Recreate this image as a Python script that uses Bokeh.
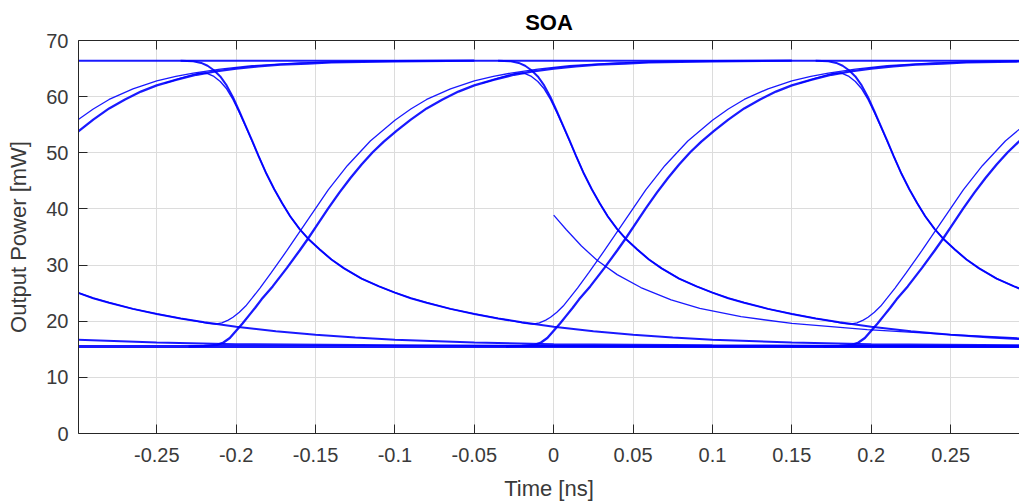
from bokeh.plotting import figure
from bokeh.models import Range1d, FixedTicker, LinearAxis, ColumnDataSource
from bokeh.embed import file_html
from bokeh.resources import INLINE

# ---------------- data ----------------
title_text = "SOA"
x_label = "Time [ns]"
y_label = "Output Power [mW]"

x_ticks = [-0.25, -0.2, -0.15, -0.1, -0.05, 0.0, 0.05, 0.1, 0.15, 0.2, 0.25]
x_tick_labels = ["-0.25", "-0.2", "-0.15", "-0.1", "-0.05", "0", "0.05", "0.1", "0.15", "0.2", "0.25"]
y_ticks = [0, 10, 20, 30, 40, 50, 60, 70]
y_tick_labels = ["0", "10", "20", "30", "40", "50", "60", "70"]

# steady "1" and "0" levels (mW) across the window (ns)
level_t = [-0.30, 0.30]
high_level = [66.4, 66.4]
low_level = [15.5, 15.5]

# bit boundaries (ns) of the eye diagram
rise_bounds = [-0.4, -0.2, 0.0, 0.2]
valley_rise_bounds = [-0.4, -0.2, 0.0, 0.2]
fall_bounds = [-0.6, -0.4, -0.2, 0.0, 0.2]
peak_fall_bounds = [-0.2, 0.0, 0.2]

# rising edge from the "0" level, time relative to its bit boundary
rise_tau = [-0.030, -0.020, -0.012, -0.008, -0.004, 0.000, 0.004, 0.008, 0.012, 0.016,
            0.023, 0.032, 0.040, 0.045, 0.050, 0.058, 0.065, 0.072, 0.079, 0.086,
            0.093, 0.101, 0.110, 0.120, 0.130, 0.140, 0.150, 0.162, 0.175, 0.187,
            0.200, 0.214, 0.228, 0.245, 0.260, 0.280, 0.300, 0.350]
rise_p = [15.5, 15.6, 15.8, 16.2, 17.0, 18.3, 19.6, 21.0, 22.4, 23.9,
          26.2, 29.5, 32.6, 34.6, 36.7, 40.1, 42.9, 45.5, 47.9, 50.1,
          52.0, 53.9, 55.9, 57.9, 59.5, 60.9, 62.0, 63.0, 63.9, 64.5,
          65.0, 65.4, 65.7, 65.9, 66.1, 66.2, 66.3, 66.4]

# decay into a valley after a single "1", then a rising edge
valley_tau = [-0.100, -0.090, -0.080, -0.065, -0.050, -0.035, -0.025, -0.018, -0.013, -0.009,
              -0.005, -0.002, 0.002, 0.006, 0.010, 0.015, 0.022, 0.032, 0.045, 0.058,
              0.070, 0.0845, 0.100, 0.110, 0.120, 0.135, 0.150, 0.162, 0.173, 0.190,
              0.210, 0.240, 0.280, 0.330]
valley_p = [25.1, 24.1, 23.3, 22.2, 21.3, 20.5, 20.0, 19.6, 19.5, 19.7,
            20.2, 20.7, 21.6, 22.7, 24.1, 25.9, 28.6, 32.6, 38.0, 43.4,
            47.7, 52.1, 55.8, 57.8, 59.5, 61.4, 62.8, 63.6, 64.2, 64.9,
            65.5, 66.0, 66.3, 66.4]

# falling edge from the "1" level and its slow decay
fall_tau = [-0.035, -0.027, -0.022, -0.018, -0.014, -0.010, -0.006, -0.002, 0.002, 0.006,
            0.010, 0.014, 0.019, 0.024, 0.029, 0.034, 0.040, 0.046, 0.0525, 0.060,
            0.068, 0.079, 0.090, 0.100, 0.110, 0.120, 0.135, 0.150, 0.165, 0.180,
            0.200, 0.225, 0.250, 0.275, 0.300, 0.350, 0.400, 0.500, 0.600, 0.700, 0.900]
fall_p = [66.4, 66.3, 66.0, 65.5, 64.7, 63.6, 62.0, 59.9, 57.4, 54.8,
          52.2, 49.5, 46.3, 43.5, 41.0, 38.7, 36.4, 34.5, 32.8, 31.0,
          29.4, 27.6, 26.2, 25.1, 24.1, 23.3, 22.2, 21.3, 20.5, 19.8,
          19.0, 18.2, 17.6, 17.1, 16.7, 16.2, 15.9, 15.7, 15.6, 15.5, 15.5]

# falling edge right after a rising edge (peak below the "1" level)
peak_tau = [-0.045, -0.040, -0.035, -0.030, -0.026, -0.022, -0.018, -0.014, -0.010, -0.006,
            -0.002, 0.002, 0.006, 0.010, 0.014, 0.019, 0.024, 0.029, 0.034, 0.040,
            0.046, 0.0525, 0.060, 0.068, 0.079, 0.090, 0.100]
peak_p = [62.4, 62.8, 63.3, 63.7, 64.0, 64.2, 64.1, 63.6, 62.7, 61.4,
          59.5, 57.2, 54.7, 52.1, 49.5, 46.3, 43.5, 41.0, 38.7, 36.4,
          34.5, 32.8, 31.0, 29.4, 27.6, 26.2, 25.1]

# trace that begins at t = 0 (start of the record)
start_t = [0.0, 0.008, 0.0175, 0.0275, 0.040, 0.0549, 0.074, 0.092, 0.118, 0.150,
           0.1975, 0.250, 0.300]
start_p = [38.9, 36.3, 33.4, 30.8, 28.3, 26.0, 23.8, 22.3, 20.8, 19.6,
           18.5, 17.6, 16.9]

# ---------------- build traces ----------------
xs, ys, widths = [], [], []

def add(tx, py, w):
    xs.append(list(tx))
    ys.append(list(py))
    widths.append(w)

add(level_t, high_level, 2.0)
add(level_t, low_level, 3.0)
for b in fall_bounds:
    add([b + t for t in fall_tau], fall_p, 2.0)
for b in peak_fall_bounds:
    add([b + t for t in peak_tau], peak_p, 1.4)
for b in rise_bounds:
    add([b + t for t in rise_tau], rise_p, 2.3)
for b in valley_rise_bounds:
    add([b + t for t in valley_tau], valley_p, 1.3)
add(start_t, start_p, 1.3)

src = ColumnDataSource(dict(xs=xs, ys=ys, w=widths))

# ---------------- figure ----------------
FONT = "Liberation Sans"
TXT = "#262626"

p = figure(width=1019, height=503, output_backend="svg", toolbar_location=None,
           x_range=Range1d(-0.2993, 0.2934), y_range=Range1d(0, 70),
           min_border_left=78, min_border_right=0, min_border_top=40, min_border_bottom=70,
           x_axis_label=x_label, y_axis_label=y_label)
p.outline_line_color = None
p.background_fill_color = "white"
p.border_fill_color = "white"

p.title.text = title_text
p.title.align = "center"
p.title.offset = 4
p.title.text_font = FONT
p.title.text_font_size = "22px"
p.title.text_font_style = "bold"
p.title.text_color = "#000000"
p.title.standoff = 12

for ax, ticks, labels in ((p.xaxis[0], x_ticks, x_tick_labels), (p.yaxis[0], y_ticks, y_tick_labels)):
    ax.ticker = FixedTicker(ticks=ticks)
    ax.major_label_overrides = {t: l for t, l in zip(ticks, labels)}
    ax.major_tick_in = 9
    ax.major_tick_out = 0
    ax.minor_tick_line_color = None
    ax.axis_line_color = TXT
    ax.major_tick_line_color = TXT
    ax.major_label_text_font = FONT
    ax.major_label_text_font_size = "20px"
    ax.major_label_text_color = "#3a3a3a"
    ax.axis_label_text_font = FONT
    ax.axis_label_text_font_size = "22px"
    ax.axis_label_text_font_style = "normal"
    ax.axis_label_text_color = "#3a3a3a"

p.xaxis[0].major_label_standoff = 14
p.xaxis[0].axis_label_standoff = 11
p.yaxis[0].major_label_standoff = 10
p.yaxis[0].axis_label_standoff = 12

top = LinearAxis(ticker=FixedTicker(ticks=x_ticks), major_label_text_font_size="1px",
                 major_label_text_color=None, major_label_standoff=0,
                 major_tick_in=9, major_tick_out=0,
                 minor_tick_line_color=None, axis_line_color=TXT, major_tick_line_color=TXT)
p.add_layout(top, "above")

p.xgrid.ticker = FixedTicker(ticks=x_ticks)
p.ygrid.ticker = FixedTicker(ticks=y_ticks)
for g in (p.xgrid[0], p.ygrid[0]):
    g.grid_line_color = "#dcdcdc"
    g.grid_line_width = 1

p.multi_line(xs="xs", ys="ys", line_width="w", line_color="#0000ff", line_alpha=0.9, source=src)

open("out.html", "w").write(file_html(p, INLINE))
